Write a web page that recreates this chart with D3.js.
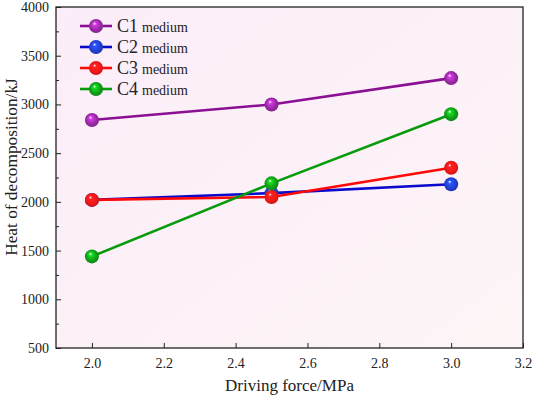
<!DOCTYPE html>
<html>
<head>
<meta charset="utf-8">
<script src="https://cdn.jsdelivr.net/npm/d3@7"></script>
<style>
  body { margin: 0; background: #fff; }
  text { font-family: "Liberation Serif", "Times New Roman", serif; }
</style>
</head>
<body>
<div id="chart"></div>
<script>
const pressures = [2.0, 2.5, 3.0];
const seriesNames = ["C1", "C2", "C3", "C4"];
const c1Values = [2840, 3000, 3270];
const c2Values = [2020, 2090, 2180];
const c3Values = [2020, 2050, 2350];
const c4Values = [1440, 2190, 2900];
const lineColors = ["#8a0f93", "#0a0acc", "#ff0808", "#079b0b"];
const ballColors = ["#9a2aa6", "#2040d0", "#f21818", "#10a018"];
const xTicks = [2.0, 2.2, 2.4, 2.6, 2.8, 3.0, 3.2];
const yTicks = [500, 1000, 1500, 2000, 2500, 3000, 3500, 4000];

const width = 533, height = 398;
const margin = { top: 7, right: 10, bottom: 50, left: 56 };
const innerW = width - margin.left - margin.right;
const innerH = height - margin.top - margin.bottom;

const allSeries = [c1Values, c2Values, c3Values, c4Values].map((vals, i) => ({
    name: seriesNames[i],
    color: lineColors[i],
    ball: ballColors[i],
    points: vals.map((v, j) => ({ x: pressures[j], y: v }))
}));

const svg = d3.select("#chart").append("svg")
    .attr("width", width).attr("height", height);

const defs = svg.append("defs");
const bg = defs.append("linearGradient").attr("id", "bg")
    .attr("x1", "0").attr("y1", "0").attr("x2", "1").attr("y2", "1");
bg.append("stop").attr("offset", "0%").attr("stop-color", "#fbedf9");
bg.append("stop").attr("offset", "100%").attr("stop-color", "#fdf5f6");

allSeries.forEach((s, i) => {
    const g = defs.append("radialGradient").attr("id", "ball" + i)
        .attr("cx", "0.5").attr("cy", "0.5").attr("r", "0.55")
        .attr("fx", "0.38").attr("fy", "0.3");
    g.append("stop").attr("offset", "0%").attr("stop-color", "#ffffff");
    g.append("stop").attr("offset", "22%").attr("stop-color", d3.color(s.ball).brighter(0.9));
    g.append("stop").attr("offset", "65%").attr("stop-color", s.ball);
    g.append("stop").attr("offset", "100%").attr("stop-color", d3.color(s.ball).darker(0.6));
});

const g = svg.append("g").attr("transform", `translate(${margin.left},${margin.top})`);

const x = d3.scaleLinear().domain([1.9, 3.2]).range([0, innerW]);
const y = d3.scaleLinear().domain([500, 4000]).range([innerH, 0]);

g.append("rect").attr("width", innerW).attr("height", innerH).attr("fill", "url(#bg)");

// axes with inward ticks
const xAxis = g.append("g").attr("transform", `translate(0,${innerH})`)
    .call(d3.axisBottom(x).tickValues(xTicks).tickFormat(d3.format(".1f")).tickSizeInner(-5).tickSizeOuter(0).tickPadding(10));
const yAxis = g.append("g")
    .call(d3.axisLeft(y).tickValues(yTicks).tickFormat(d3.format("d")).tickSizeInner(-5).tickSizeOuter(0).tickPadding(7));
const yMinor = g.append("g")
    .call(d3.axisLeft(y).tickValues(d3.range(750, 4000, 500)).tickFormat("").tickSizeInner(-3).tickSizeOuter(0));
yMinor.select(".domain").remove();
[xAxis, yAxis].forEach(a => {
    a.selectAll("text").style("font-size", "14px").attr("fill", "#222");
    a.select(".domain").remove();
});
g.selectAll(".tick line").attr("stroke", "#222");

// frame
g.append("rect").attr("width", innerW).attr("height", innerH)
    .attr("fill", "none").attr("stroke", "#222").attr("stroke-width", 1.3);

// lines
const line = d3.line().x(d => x(d.x)).y(d => y(d.y));
g.selectAll(".series-line").data(allSeries).enter().append("path")
    .attr("class", "series-line")
    .attr("d", d => line(d.points))
    .attr("fill", "none")
    .attr("stroke", d => d.color)
    .attr("stroke-width", 2.6);

// markers
allSeries.forEach((s, i) => {
    g.selectAll(".pt" + i).data(s.points).enter().append("circle")
        .attr("cx", d => x(d.x)).attr("cy", d => y(d.y)).attr("r", 7)
        .attr("fill", `url(#ball${i})`);
});

// legend
const legend = g.append("g").attr("transform", "translate(24,19)");
allSeries.forEach((s, i) => {
    const row = legend.append("g").attr("transform", `translate(0,${i * 21})`);
    row.append("line").attr("x1", 0).attr("x2", 32).attr("y1", 0).attr("y2", 0)
        .attr("stroke", s.color).attr("stroke-width", 2.6);
    row.append("circle").attr("cx", 16).attr("cy", 0).attr("r", 7).attr("fill", `url(#ball${i})`);
    const t = row.append("text").attr("x", 37).attr("y", 6).attr("fill", "#222");
    t.append("tspan").style("font-size", "18px").text(s.name);
    t.append("tspan").style("font-size", "14px").attr("dx", 4).text("medium");
});

// axis titles
svg.append("text")
    .attr("x", margin.left + x(2.55)).attr("y", 391)
    .attr("text-anchor", "middle").style("font-size", "17px").attr("fill", "#222")
    .text("Driving force/MPa");
svg.append("text")
    .attr("transform", "translate(17,167) rotate(-90)")
    .attr("text-anchor", "middle").style("font-size", "17.3px").attr("fill", "#222")
    .text("Heat of decomposition/kJ");
</script>
</body>
</html>
